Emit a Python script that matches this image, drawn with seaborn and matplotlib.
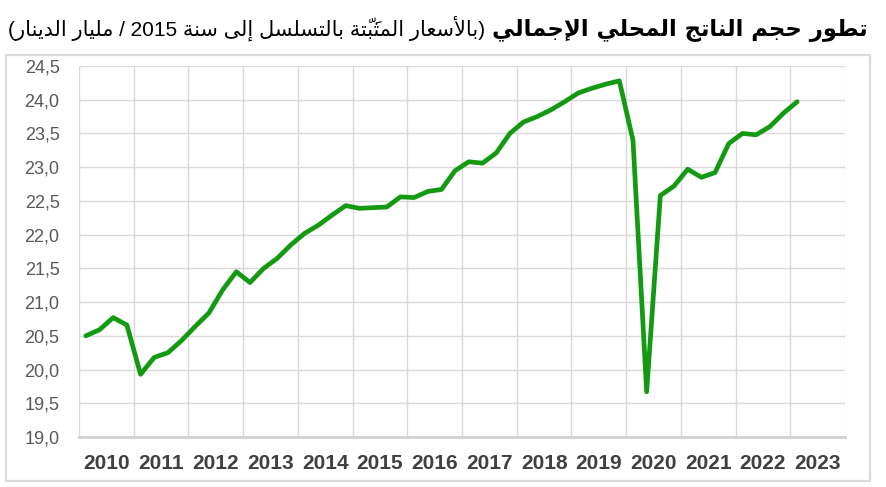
import numpy as np
import pandas as pd
import matplotlib
matplotlib.use("Agg")
import matplotlib.pyplot as plt
import seaborn as sns
from matplotlib.patches import Rectangle
from matplotlib.ticker import FuncFormatter

# ---- data (quarterly, 2010Q1 .. 2023Q1, billion dinars, chained 2015 prices)
years = [2010, 2011, 2012, 2013, 2014, 2015, 2016, 2017, 2018, 2019,
         2020, 2021, 2022, 2023]
quarters = [f"{y}Q{q}" for y in years for q in range(1, 5)][:53]
gdp = [20.50, 20.59, 20.77, 20.66, 19.93, 20.18, 20.25, 20.43, 20.64, 20.84,
       21.18, 21.45, 21.29, 21.50, 21.65, 21.85, 22.02, 22.14, 22.29, 22.43,
       22.39, 22.40, 22.41, 22.56, 22.55, 22.64, 22.67, 22.95, 23.08, 23.06,
       23.21, 23.50, 23.67, 23.75, 23.85, 23.97, 24.10, 24.17, 24.23, 24.28,
       23.40, 19.67, 22.58, 22.72, 22.97, 22.85, 22.92, 23.35, 23.50, 23.48,
       23.60, 23.80, 23.97]
y_ticks = [19.0, 19.5, 20.0, 20.5, 21.0, 21.5, 22.0, 22.5, 23.0, 23.5, 24.0, 24.5]

title_bold = "تطور حجم الناتج المحلي الإجمالي"
title_rest = "(بالأسعار المثَبّتة بالتسلسل إلى سنة 2015 / مليار الدينار)"

# ---- tiny arabic shaper (matplotlib has no shaping / bidi)
_letters = "ءآأؤإئابةتثجحخدذرزسشصضطظعغفقكلمنهوىي"
_counts = [1, 2, 2, 2, 2, 4, 2, 4, 2, 4, 4, 4, 4, 4, 2, 2, 2, 2, 4, 4, 4, 4,
           4, 4, 4, 4, 4, 4, 4, 4, 4, 4, 4, 2, 2, 4]
FORMS = {}
_start = 0xFE80
for _ch, _n in zip(_letters, _counts):
    FORMS[_ch] = (_start, _n)
    _start += _n
LAM_ALEF = {"آ": 0xFEF5, "أ": 0xFEF7, "إ": 0xFEF9, "ا": 0xFEFB}
MARKS = set(chr(c) for c in range(0x064B, 0x0660)) | {"\u0670"}


def shape(s):
    clusters = []
    for ch in s:
        if ch in MARKS and clusters:
            clusters[-1][1] += ch
        else:
            clusters.append([ch, ""])
    items = []
    i = 0
    while i < len(clusters):
        b, m = clusters[i]
        if b == "ل" and i + 1 < len(clusters) and clusters[i + 1][0] in LAM_ALEF:
            items.append(("LA", clusters[i + 1][0], m + clusters[i + 1][1]))
            i += 2
        else:
            items.append(("", b, m))
            i += 1

    def joins_next(it):
        return it[0] != "LA" and it[1] in FORMS and FORMS[it[1]][1] == 4

    def joinable(it):
        return it[0] == "LA" or (it[1] in FORMS and FORMS[it[1]][1] > 1)

    glyphs = []
    for k, it in enumerate(items):
        prev = items[k - 1] if k > 0 else None
        nxt = items[k + 1] if k + 1 < len(items) else None
        p = prev is not None and joins_next(prev) and joinable(it)
        if it[0] == "LA":
            g = chr(LAM_ALEF[it[1]] + (1 if p else 0))
        elif it[1] in FORMS:
            start, n = FORMS[it[1]]
            if n == 4:
                nx = nxt is not None and joinable(nxt)
                idx = {(False, False): 0, (True, False): 1,
                       (False, True): 2, (True, True): 3}[(p, nx)]
            elif n == 2:
                idx = 1 if p else 0
            else:
                idx = 0
            g = chr(start + idx)
        else:
            g = it[1]
        # marks go before their base in visual (left-to-right) order
        glyphs.append(it[2] + g)

    runs = []
    for g in glyphs:
        ltr = g[0].isascii() and g[0].isalnum()
        if ltr and runs and runs[-1][0]:
            runs[-1][1].append(g)
        else:
            runs.append([ltr, [g]])
    mirror = {"(": ")", ")": "("}
    out = ""
    for ltr, gs in reversed(runs):
        if ltr:
            out += "".join(gs)
        else:
            out += "".join(mirror.get(g, g) for g in reversed(gs))
    return out


# ---- figure
sns.set_style("white")
plt.rcParams["font.family"] = ["Liberation Sans", "DejaVu Sans"]

W, H = 887, 487
fig = plt.figure(figsize=(W / 100, H / 100), dpi=100)
ax = fig.add_axes([79 / W, 1 - 437 / H, (845 - 79) / W, (437 - 66) / H])

df = pd.DataFrame({"quarter": quarters, "gdp": gdp})
df["pos"] = np.arange(len(df)) + 0.5

sns.lineplot(data=df, x="pos", y="gdp", ax=ax, color="#149a12", linewidth=3.4,
             solid_joinstyle="round", solid_capstyle="round")

n_q = 4 * len(years)
ax.set_xlim(0, n_q)
ax.set_ylim(y_ticks[0], y_ticks[-1])
ax.set_yticks(y_ticks)
ax.yaxis.set_major_formatter(FuncFormatter(lambda v, _: f"{v:.1f}".replace(".", ",")))

ax.set_xticks(np.arange(0, n_q + 1, 4))
ax.set_xticklabels([])
ax.set_xticks(np.arange(2, n_q, 4), minor=True)
ax.set_xticklabels([str(y) for y in years], minor=True,
                   family=["Liberation Sans Narrow", "Liberation Sans"],
                   fontweight="bold", fontsize=15, color="#404040")
ax.tick_params(axis="x", which="both", length=0, pad=12)
ax.tick_params(axis="y", length=0, pad=14, labelsize=13, labelcolor="#595959")

ax.grid(True, which="major", color="#d9d9d9", linewidth=1)
ax.set_axisbelow(True)
for side in ["top", "right", "left"]:
    ax.spines[side].set_visible(False)
ax.spines["bottom"].set_color("#d0d0d0")
ax.spines["bottom"].set_linewidth(2)
ax.set_xlabel("")
ax.set_ylabel("")

# outer chart frame
fig.patches.append(Rectangle((6 / W, 1 - 481 / H), (870 - 6) / W, (481 - 55) / H,
                             transform=fig.transFigure, fill=False,
                             edgecolor="#d9d9d9", linewidth=1.6))

# title, fitted to the reference width
renderer = fig.canvas.get_renderer()
t1 = fig.text(868 / W, 1 - 36 / H, shape(title_bold), ha="right", va="baseline",
              family=["DejaVu Sans"], fontweight="bold", fontsize=18, color="black")
w1 = t1.get_window_extent(renderer).width
t1.set_fontsize(18 * 378 / w1)
x_left = t1.get_window_extent(renderer).x0 - 7
t2 = fig.text(x_left / W, 1 - 36 / H, shape(title_rest), ha="right", va="baseline",
              family=["Liberation Sans", "DejaVu Sans"], fontsize=14, color="black")
w2 = t2.get_window_extent(renderer).width
t2.set_fontsize(14 * (x_left - 5) / w2)

fig.savefig("out.png", dpi=100)
